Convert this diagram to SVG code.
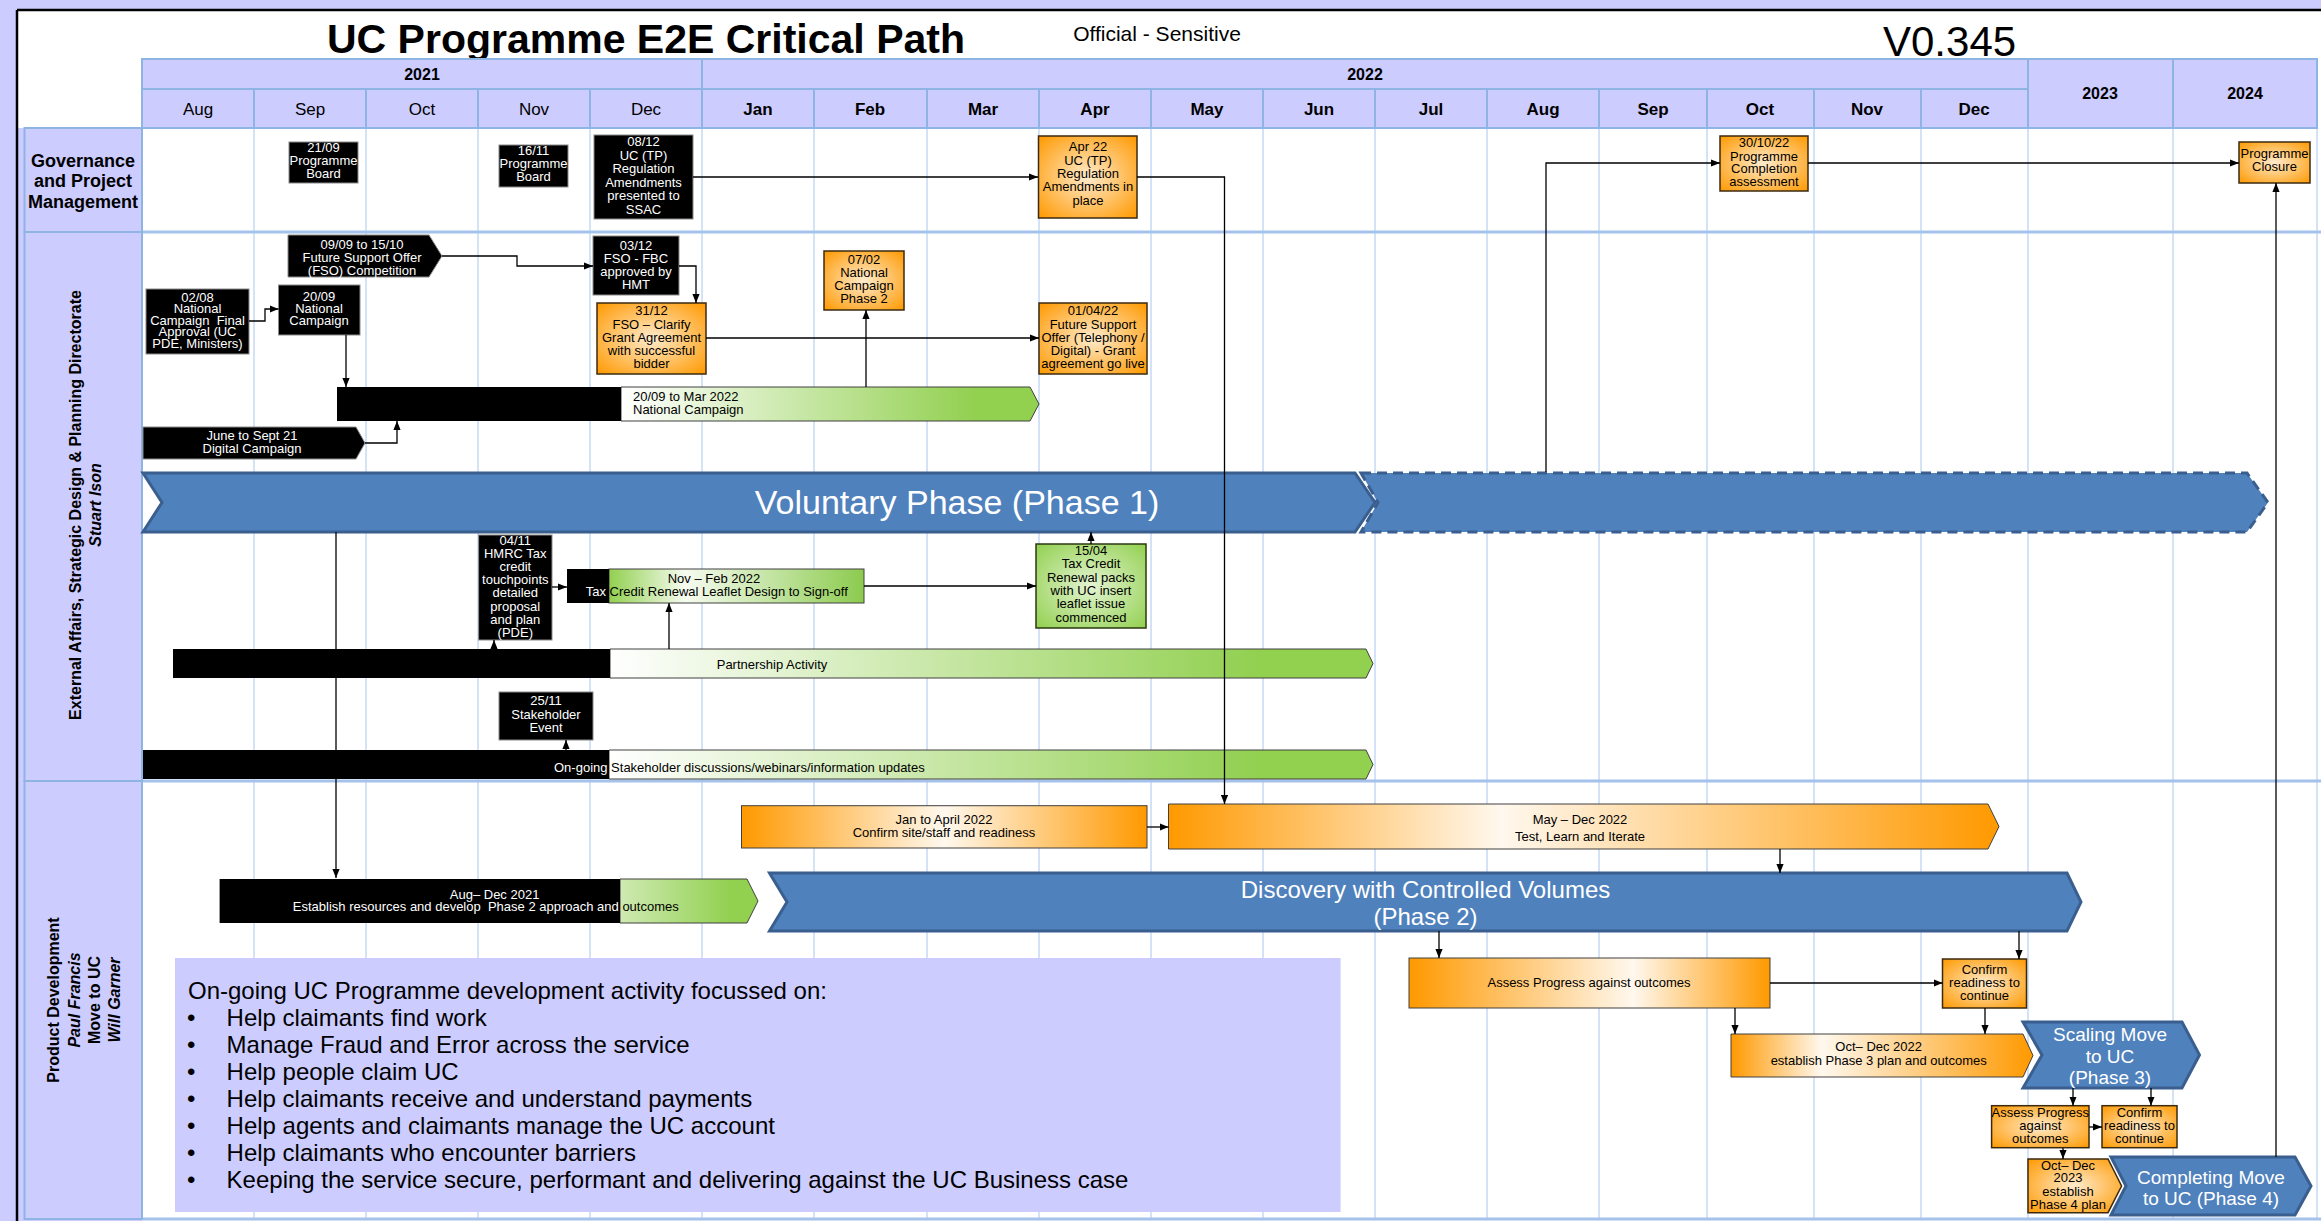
<svg xmlns="http://www.w3.org/2000/svg" width="2321" height="1221" viewBox="0 0 2321 1221">
<defs>
<style>
text{font-family:"Liberation Sans",Arial,Helvetica,sans-serif}
.t13{font-size:13px;text-anchor:middle}
.w{fill:#fff}
.k{fill:#000}
.bk{fill:#000;stroke:#8a8a8a;stroke-width:1}
.ob{fill:url(#gOr);stroke:#3b2a10;stroke-width:1.5}
.gb{fill:url(#gGr);stroke:#2b3a10;stroke-width:1.5}
.ph{fill:#4F81BD;stroke:#3A5F8F;stroke-width:3}
.phd{fill:#4F81BD;stroke:#3A5F8F;stroke-width:3;stroke-dasharray:10 6}
.conn path{fill:none;stroke:#000;stroke-width:1.3;marker-end:url(#ah)}
.grid line{stroke:#A9C6EE;stroke-width:1}
.sep{stroke:#A4C2EA;stroke-width:3}
.hd{fill:#CCCCFF;stroke:#8EB4E3;stroke-width:2}
.mo{font-size:17px;text-anchor:middle}
.mb{font-size:17px;text-anchor:middle;font-weight:bold}
.yr{font-size:16px;text-anchor:middle;font-weight:bold}
.lbl{font-size:16px;font-weight:bold;text-anchor:middle}
.bar{stroke:#404040;stroke-width:1}
.pw{fill:#fff;font-size:19px;text-anchor:middle}
.info{font-size:24px;fill:#000}
</style>
<marker id="ah" viewBox="0 0 10 8" refX="10" refY="4" markerWidth="9" markerHeight="7.2" markerUnits="userSpaceOnUse" orient="auto"><path d="M0,0 L10,4 L0,8 z" fill="#000"/></marker>
<radialGradient id="gOr" cx="0.5" cy="0.5" r="0.7"><stop offset="0" stop-color="#FFEBCC"/><stop offset="1" stop-color="#FF9900"/></radialGradient>
<radialGradient id="gGr" cx="0.5" cy="0.5" r="0.7"><stop offset="0" stop-color="#E4F4D2"/><stop offset="1" stop-color="#92D050"/></radialGradient>
<linearGradient id="gW2G"><stop offset="0" stop-color="#FFFFFF"/><stop offset="0.85" stop-color="#92D050"/></linearGradient>
<linearGradient id="gL2G"><stop offset="0" stop-color="#CFEAB2"/><stop offset="0.8" stop-color="#92D050"/></linearGradient>
<linearGradient id="gGWG"><stop offset="0" stop-color="#92D050"/><stop offset="0.3" stop-color="#F6FBF0"/><stop offset="1" stop-color="#8CCB4E"/></linearGradient>
<linearGradient id="gO50"><stop offset="0" stop-color="#FF9900"/><stop offset="0.5" stop-color="#FFF8EE"/><stop offset="1" stop-color="#FF9900"/></linearGradient>
<linearGradient id="gO40"><stop offset="0" stop-color="#FF9900"/><stop offset="0.4" stop-color="#FFF8EE"/><stop offset="1" stop-color="#FF9900"/></linearGradient>
<linearGradient id="gO65"><stop offset="0" stop-color="#FF9900"/><stop offset="0.62" stop-color="#FFF8EE"/><stop offset="1" stop-color="#FF9900"/></linearGradient>
<linearGradient id="gO30"><stop offset="0" stop-color="#FF9900"/><stop offset="0.3" stop-color="#FFF8EE"/><stop offset="1" stop-color="#FF9900"/></linearGradient>
</defs>

<!-- background and frame -->
<rect x="0" y="0" width="2321" height="1221" fill="#CCCCFF"/>
<rect x="17" y="10" width="2304" height="1211" fill="#FFFFFF"/>
<rect x="18" y="128" width="124" height="1093" fill="#CCCCFF"/>
<line x1="17" y1="10" x2="2321" y2="10" stroke="#000" stroke-width="2.5"/>
<line x1="17" y1="10" x2="17" y2="1221" stroke="#000" stroke-width="2.5"/>

<!-- grid -->
<g class="grid">
<line x1="254" y1="128" x2="254" y2="1219"/>
<line x1="366" y1="128" x2="366" y2="1219"/>
<line x1="478" y1="128" x2="478" y2="1219"/>
<line x1="590" y1="128" x2="590" y2="1219"/>
<line x1="702" y1="128" x2="702" y2="1219"/>
<line x1="814" y1="128" x2="814" y2="1219"/>
<line x1="927" y1="128" x2="927" y2="1219"/>
<line x1="1039" y1="128" x2="1039" y2="1219"/>
<line x1="1151" y1="128" x2="1151" y2="1219"/>
<line x1="1263" y1="128" x2="1263" y2="1219"/>
<line x1="1375" y1="128" x2="1375" y2="1219"/>
<line x1="1487" y1="128" x2="1487" y2="1219"/>
<line x1="1599" y1="128" x2="1599" y2="1219"/>
<line x1="1707" y1="128" x2="1707" y2="1219"/>
<line x1="1814" y1="128" x2="1814" y2="1219"/>
<line x1="1921" y1="128" x2="1921" y2="1219"/>
<line x1="2028" y1="128" x2="2028" y2="1219"/>
<line x1="2173" y1="128" x2="2173" y2="1219"/>
<line x1="2317" y1="128" x2="2317" y2="1219"/>
</g>
<line class="sep" x1="142" y1="232" x2="2321" y2="232"/>
<line class="sep" x1="142" y1="781" x2="2321" y2="781"/>
<line class="sep" x1="142" y1="1219" x2="2321" y2="1219"/>

<!-- title -->
<text x="646" y="53" font-size="41" font-weight="bold" text-anchor="middle">UC Programme E2E Critical Path</text>
<text x="1157" y="41" font-size="21" text-anchor="middle">Official - Sensitive</text>
<text x="1883" y="56" font-size="42">V0.345</text>

<!-- header -->
<g id="header">
<rect class="hd" x="142" y="59" width="560" height="30"/>
<rect class="hd" x="702" y="59" width="1326" height="30"/>
<rect class="hd" x="2028" y="59" width="145" height="69"/>
<rect class="hd" x="2173" y="59" width="144" height="69"/>
<rect class="hd" x="142" y="89" width="112" height="39"/>
<rect class="hd" x="254" y="89" width="112" height="39"/>
<rect class="hd" x="366" y="89" width="112" height="39"/>
<rect class="hd" x="478" y="89" width="112" height="39"/>
<rect class="hd" x="590" y="89" width="112" height="39"/>
<rect class="hd" x="702" y="89" width="112" height="39"/>
<rect class="hd" x="814" y="89" width="113" height="39"/>
<rect class="hd" x="927" y="89" width="112" height="39"/>
<rect class="hd" x="1039" y="89" width="112" height="39"/>
<rect class="hd" x="1151" y="89" width="112" height="39"/>
<rect class="hd" x="1263" y="89" width="112" height="39"/>
<rect class="hd" x="1375" y="89" width="112" height="39"/>
<rect class="hd" x="1487" y="89" width="112" height="39"/>
<rect class="hd" x="1599" y="89" width="108" height="39"/>
<rect class="hd" x="1707" y="89" width="107" height="39"/>
<rect class="hd" x="1814" y="89" width="107" height="39"/>
<rect class="hd" x="1921" y="89" width="107" height="39"/>
<text class="yr" x="422" y="80">2021</text>
<text class="yr" x="1365" y="80">2022</text>
<text class="yr" x="2100" y="99">2023</text>
<text class="yr" x="2245" y="99">2024</text>
<text class="mo" x="198" y="115">Aug</text>
<text class="mo" x="310" y="115">Sep</text>
<text class="mo" x="422" y="115">Oct</text>
<text class="mo" x="534" y="115">Nov</text>
<text class="mo" x="646" y="115">Dec</text>
<text class="mb" x="758" y="115">Jan</text>
<text class="mb" x="870" y="115">Feb</text>
<text class="mb" x="983" y="115">Mar</text>
<text class="mb" x="1095" y="115">Apr</text>
<text class="mb" x="1207" y="115">May</text>
<text class="mb" x="1319" y="115">Jun</text>
<text class="mb" x="1431" y="115">Jul</text>
<text class="mb" x="1543" y="115">Aug</text>
<text class="mb" x="1653" y="115">Sep</text>
<text class="mb" x="1760" y="115">Oct</text>
<text class="mb" x="1867" y="115">Nov</text>
<text class="mb" x="1974" y="115">Dec</text>
</g>

<!-- swimlane labels -->
<g id="lane-governance">
<rect class="hd" x="24.5" y="128" width="117.5" height="104"/>
<text class="lbl" x="83" y="166.5" style="font-size:18px">Governance</text>
<text class="lbl" x="83" y="187" style="font-size:18px">and Project</text>
<text class="lbl" x="83" y="207.5" style="font-size:18px">Management</text>
</g>
<g id="lane-external">
<rect class="hd" x="24.5" y="232" width="117.5" height="549"/>
<text class="lbl" transform="translate(81,505) rotate(-90)">External Affairs, Strategic Design &amp; Planning Directorate</text>
<text class="lbl" font-style="italic" transform="translate(101,505) rotate(-90)">Stuart Ison</text>
</g>
<g id="lane-product">
<rect class="hd" x="24.5" y="781" width="117.5" height="438"/>
<text class="lbl" transform="translate(59,1000) rotate(-90)">Product Development</text>
<text class="lbl" font-style="italic" transform="translate(79.5,1000) rotate(-90)">Paul Francis</text>
<text class="lbl" transform="translate(99.5,1000) rotate(-90)">Move to UC</text>
<text class="lbl" font-style="italic" transform="translate(119.5,1000) rotate(-90)">Will Garner</text>
</g>

<!-- phase bars -->
<g id="phase1">
<polygon class="ph" points="143,473 1355,473 1375,502.5 1355,532 143,532 162,502.5"/>
<text x="957" y="514" font-size="34" fill="#fff" text-anchor="middle">Voluntary Phase (Phase 1)</text>
</g>
<g id="phase1-ext">
<polygon class="phd" points="1361,473 2247,473 2268,502.5 2247,532 1361,532 1378,502.5"/>
</g>
<g id="phase2">
<polygon class="ph" points="769.5,873 2067,873 2081,902 2067,931 769.5,931 787,902"/>
<text x="1425.5" y="898" font-size="24" fill="#fff" text-anchor="middle">Discovery with Controlled Volumes</text>
<text x="1425.5" y="925" font-size="24" fill="#fff" text-anchor="middle">(Phase 2)</text>
</g>
<g id="phase3">
<polygon class="ph" points="2023,1022 2182,1022 2199.5,1055 2182,1088 2023,1088 2042,1055"/>
<text class="pw" x="2110" y="1041">Scaling Move</text>
<text class="pw" x="2110" y="1062.5">to UC</text>
<text class="pw" x="2110" y="1083.5">(Phase 3)</text>
</g>
<g id="phase4">
<polygon class="ph" points="2111,1157 2295,1157 2311,1186 2295,1215 2111,1215 2126,1186"/>
<text class="pw" x="2211" y="1183.7">Completing Move</text>
<text class="pw" x="2211" y="1204.7">to UC (Phase 4)</text>
</g>

<!-- governance nodes -->
<g id="n-2109">
<rect class="bk" x="289" y="142" width="69" height="41"/>
<text class="t13 w" x="323.5" y="151.5">21/09</text>
<text class="t13 w" x="323.5" y="164.5">Programme</text>
<text class="t13 w" x="323.5" y="178">Board</text>
</g>
<g id="n-1611">
<rect class="bk" x="499" y="145" width="69" height="42"/>
<text class="t13 w" x="533.5" y="154.5">16/11</text>
<text class="t13 w" x="533.5" y="167.5">Programme</text>
<text class="t13 w" x="533.5" y="180.5">Board</text>
</g>
<g id="n-0812">
<rect class="bk" x="594" y="135" width="99" height="84"/>
<text class="t13 w" x="643.5" y="146">08/12</text>
<text class="t13 w" x="643.5" y="159.5">UC (TP)</text>
<text class="t13 w" x="643.5" y="173">Regulation</text>
<text class="t13 w" x="643.5" y="186.5">Amendments</text>
<text class="t13 w" x="643.5" y="200">presented to</text>
<text class="t13 w" x="643.5" y="213.5">SSAC</text>
</g>
<g id="n-apr22">
<rect class="ob" x="1038.5" y="136" width="98.5" height="82"/>
<text class="t13 k" x="1088" y="151">Apr 22</text>
<text class="t13 k" x="1088" y="164.5">UC (TP)</text>
<text class="t13 k" x="1088" y="177.5">Regulation</text>
<text class="t13 k" x="1088" y="191">Amendments in</text>
<text class="t13 k" x="1088" y="204.5">place</text>
</g>
<g id="n-301022">
<rect class="ob" x="1720" y="136" width="88" height="55"/>
<text class="t13 k" x="1764" y="147">30/10/22</text>
<text class="t13 k" x="1764" y="160.5">Programme</text>
<text class="t13 k" x="1764" y="173">Completion</text>
<text class="t13 k" x="1764" y="186">assessment</text>
</g>
<g id="n-closure">
<rect class="ob" x="2239" y="142" width="71" height="41"/>
<text class="t13 k" x="2274.5" y="158">Programme</text>
<text class="t13 k" x="2274.5" y="171">Closure</text>
</g>

<!-- external affairs nodes -->
<g id="n-fso-comp">
<polygon class="bk" points="288,235 429,235 442,256 429,277 288,277"/>
<text class="t13 w" x="362" y="248.5">09/09 to 15/10</text>
<text class="t13 w" x="362" y="262">Future Support Offer</text>
<text class="t13 w" x="362" y="274.5">(FSO) Competition</text>
</g>
<g id="n-0312">
<rect class="bk" x="593" y="236" width="86" height="59"/>
<text class="t13 w" x="636" y="249.5">03/12</text>
<text class="t13 w" x="636" y="263">FSO - FBC</text>
<text class="t13 w" x="636" y="276">approved by</text>
<text class="t13 w" x="636" y="288.5">HMT</text>
</g>
<g id="n-3112">
<rect class="ob" x="597" y="303" width="109" height="71"/>
<text class="t13 k" x="651.5" y="315">31/12</text>
<text class="t13 k" x="651.5" y="328.5">FSO – Clarify</text>
<text class="t13 k" x="651.5" y="342">Grant Agreement</text>
<text class="t13 k" x="651.5" y="355">with successful</text>
<text class="t13 k" x="651.5" y="368">bidder</text>
</g>
<g id="n-010422">
<rect class="ob" x="1039" y="303" width="108" height="71"/>
<text class="t13 k" x="1093" y="315">01/04/22</text>
<text class="t13 k" x="1093" y="328.5">Future Support</text>
<text class="t13 k" x="1093" y="342">Offer (Telephony /</text>
<text class="t13 k" x="1093" y="355">Digital) - Grant</text>
<text class="t13 k" x="1093" y="368">agreement go live</text>
</g>
<g id="n-0702">
<rect class="ob" x="824" y="251" width="80" height="59"/>
<text class="t13 k" x="864" y="264">07/02</text>
<text class="t13 k" x="864" y="277">National</text>
<text class="t13 k" x="864" y="290">Campaign</text>
<text class="t13 k" x="864" y="303">Phase 2</text>
</g>
<g id="n-0208">
<rect class="bk" x="146" y="289" width="103" height="65"/>
<text class="t13 w" x="197.5" y="301.5">02/08</text>
<text class="t13 w" x="197.5" y="313">National</text>
<text class="t13 w" x="197.5" y="324.5" xml:space="preserve">Campaign  Final</text>
<text class="t13 w" x="197.5" y="336">Approval (UC</text>
<text class="t13 w" x="197.5" y="347.5">PDE, Ministers)</text>
</g>
<g id="n-2009">
<rect class="bk" x="278.5" y="285" width="81.5" height="50"/>
<text class="t13 w" x="319" y="300.5">20/09</text>
<text class="t13 w" x="319" y="313">National</text>
<text class="t13 w" x="319" y="324.5">Campaign</text>
</g>
<g id="n-natcamp">
<polygon class="bar" fill="url(#gW2G)" points="621,387 1030,387 1039,404 1030,421 621,421"/>
<rect x="337" y="387" width="284" height="34" fill="#000"/>
<text x="633" y="400.5" font-size="13">20/09 to Mar 2022</text>
<text x="633" y="414" font-size="13">National Campaign</text>
</g>
<g id="n-digital">
<polygon class="bk" points="143,427 356,427 365,443 356,459 143,459"/>
<text class="t13 w" x="252" y="440">June to Sept 21</text>
<text class="t13 w" x="252" y="453">Digital Campaign</text>
</g>
<g id="n-0411">
<rect class="bk" x="478.6" y="535" width="73.4" height="105"/>
<text class="t13 w" x="515.3" y="544.5">04/11</text>
<text class="t13 w" x="515.3" y="557.7">HMRC Tax</text>
<text class="t13 w" x="515.3" y="570.9">credit</text>
<text class="t13 w" x="515.3" y="584.1">touchpoints</text>
<text class="t13 w" x="515.3" y="597.3">detailed</text>
<text class="t13 w" x="515.3" y="610.5">proposal</text>
<text class="t13 w" x="515.3" y="623.7">and plan</text>
<text class="t13 w" x="515.3" y="636.9">(PDE)</text>
</g>
<g id="n-novfeb">
<rect class="bar" x="609" y="569" width="255" height="34" fill="url(#gGWG)"/>
<rect x="567" y="569" width="42" height="34" fill="#000"/>
<text x="714" y="583" font-size="13" text-anchor="middle">Nov – Feb 2022</text>
<text x="585.7" y="596" font-size="13"><tspan fill="#fff">Tax </tspan>Credit Renewal Leaflet Design to Sign-off</text>
</g>
<g id="n-1504">
<rect class="gb" x="1036" y="544" width="110" height="84"/>
<text class="t13 k" x="1091" y="555">15/04</text>
<text class="t13 k" x="1091" y="568.3">Tax Credit</text>
<text class="t13 k" x="1091" y="581.6">Renewal packs</text>
<text class="t13 k" x="1091" y="594.9">with UC insert</text>
<text class="t13 k" x="1091" y="608.2">leaflet issue</text>
<text class="t13 k" x="1091" y="621.5">commenced</text>
</g>
<g id="n-partnership">
<polygon class="bar" fill="url(#gW2G)" points="610,649 1366,649 1373,663.5 1366,678 610,678"/>
<rect x="173" y="649" width="437" height="29" fill="#000"/>
<text x="772" y="668.5" font-size="13" text-anchor="middle">Partnership Activity</text>
</g>
<g id="n-2511">
<rect class="bk" x="499" y="692" width="94" height="48"/>
<text class="t13 w" x="546" y="705">25/11</text>
<text class="t13 w" x="546" y="718.5">Stakeholder</text>
<text class="t13 w" x="546" y="732">Event</text>
</g>
<g id="n-stakeholder">
<polygon class="bar" fill="url(#gW2G)" points="609,750 1366,750 1373,764.5 1366,779 609,779"/>
<rect x="143" y="750" width="466" height="29" fill="#000"/>
<text x="554" y="771.5" font-size="13"><tspan fill="#fff">On-going </tspan>Stakeholder discussions/webinars/information updates</text>
</g>

<!-- product development nodes -->
<g id="n-augdec21">
<polygon class="bar" fill="url(#gL2G)" points="620,879 747,879 758,901 747,923 620,923"/>
<rect x="219.6" y="879" width="400.4" height="44" fill="#000"/>
<text x="494.6" y="898.5" font-size="13" fill="#fff" text-anchor="middle">Aug– Dec 2021</text>
<text x="485.8" y="911" font-size="13" text-anchor="middle" xml:space="preserve"><tspan fill="#fff">Establish resources and develop  Phase 2 approach and </tspan><tspan fill="#000">outcomes</tspan></text>
</g>
<g id="n-janapr">
<rect class="bar" x="741.5" y="805.7" width="405.5" height="42.3" fill="url(#gO50)"/>
<text x="944" y="823.5" font-size="13" text-anchor="middle">Jan to April 2022</text>
<text x="944" y="836.5" font-size="13" text-anchor="middle">Confirm site/staff and readiness</text>
</g>
<g id="n-maydec">
<polygon class="bar" fill="url(#gO40)" points="1168.5,804 1988,804 1999,826.5 1988,849 1168.5,849"/>
<text x="1580" y="823.5" font-size="13" text-anchor="middle">May – Dec 2022</text>
<text x="1580" y="840.5" font-size="13" text-anchor="middle">Test, Learn and Iterate</text>
</g>
<g id="n-assess">
<rect class="bar" x="1409" y="958" width="361" height="50" fill="url(#gO65)"/>
<text x="1589" y="986.5" font-size="13" text-anchor="middle">Assess Progress against outcomes</text>
</g>
<g id="n-confirm">
<rect class="ob" x="1942.5" y="959" width="84" height="49"/>
<text class="t13 k" x="1984.5" y="974">Confirm</text>
<text class="t13 k" x="1984.5" y="987">readiness to</text>
<text class="t13 k" x="1984.5" y="1000">continue</text>
</g>
<g id="n-octdec22">
<polygon class="bar" fill="url(#gO30)" points="1731,1034 2023,1034 2033,1055.5 2023,1077 1731,1077"/>
<text x="1878.7" y="1051" font-size="13" text-anchor="middle">Oct– Dec 2022</text>
<text x="1878.7" y="1065" font-size="13" text-anchor="middle">establish Phase 3 plan and outcomes</text>
</g>
<g id="n-assess-s">
<rect class="ob" x="1991.6" y="1105.7" width="97.4" height="42"/>
<text class="t13 k" x="2040.3" y="1116.8">Assess Progress</text>
<text class="t13 k" x="2040.3" y="1130">against</text>
<text class="t13 k" x="2040.3" y="1142.8">outcomes</text>
</g>
<g id="n-confirm-s">
<rect class="ob" x="2102" y="1105.7" width="75" height="42"/>
<text class="t13 k" x="2139.5" y="1116.8">Confirm</text>
<text class="t13 k" x="2139.5" y="1130">readiness to</text>
<text class="t13 k" x="2139.5" y="1142.8">continue</text>
</g>
<g id="n-octdec23">
<polygon class="ob" points="2028,1159 2108,1159 2121.6,1186 2108,1212.7 2028,1212.7"/>
<text class="t13 k" x="2068" y="1169.5">Oct– Dec</text>
<text class="t13 k" x="2068" y="1182.2">2023</text>
<text class="t13 k" x="2068" y="1195.5">establish</text>
<text class="t13 k" x="2068" y="1208.8">Phase 4 plan</text>
</g>
<g id="n-info">
<rect x="175" y="958" width="1165.6" height="254" fill="#CCCCFF"/>
<text class="info" x="188" y="999">On-going UC Programme development activity focussed on:</text>
<text class="info" x="187" y="1026">•</text><text class="info" x="226.6" y="1026">Help claimants find work</text>
<text class="info" x="187" y="1053">•</text><text class="info" x="226.6" y="1053">Manage Fraud and Error across the service</text>
<text class="info" x="187" y="1080">•</text><text class="info" x="226.6" y="1080">Help people claim UC</text>
<text class="info" x="187" y="1107">•</text><text class="info" x="226.6" y="1107">Help claimants receive and understand payments</text>
<text class="info" x="187" y="1134">•</text><text class="info" x="226.6" y="1134">Help agents and claimants manage the UC account</text>
<text class="info" x="187" y="1161">•</text><text class="info" x="226.6" y="1161">Help claimants who encounter barriers</text>
<text class="info" x="187" y="1188">•</text><text class="info" x="226.6" y="1188">Keeping the service secure, performant and delivering against the UC Business case</text>
</g>

<!-- connectors -->
<g id="connectors" class="conn">
<path d="M693,177 H1038"/>
<path d="M1137,177 H1224.5 V804"/>
<path d="M1546,472 V163 H1720"/>
<path d="M1808,163 H2239"/>
<path d="M2276,1157 V183"/>
<path d="M442,256 H517 V266 H593"/>
<path d="M679,266 H696 V303"/>
<path d="M706,338 H1039"/>
<path d="M866,387 V310"/>
<path d="M249,321 H265 V309 H278.5"/>
<path d="M346,335 V387"/>
<path d="M365,443 H397 V421"/>
<path d="M552,587 H567"/>
<path d="M494,649 V640"/>
<path d="M669,649 V603"/>
<path d="M864,586 H1036"/>
<path d="M1091,544 V532"/>
<path d="M566,750 V740"/>
<path d="M336,532 V878"/>
<path d="M1147,827 H1168.5"/>
<path d="M1780,849 V873"/>
<path d="M1439,931 V958"/>
<path d="M2019,931 V959"/>
<path d="M1770,983 H1942.5"/>
<path d="M1735,1008 V1034"/>
<path d="M1985,1008 V1034"/>
<path d="M2073,1088 V1105.7"/>
<path d="M2151,1088 V1105.7"/>
<path d="M2089,1127 H2102"/>
<path d="M2063,1148 V1159"/>
</g>
</svg>
